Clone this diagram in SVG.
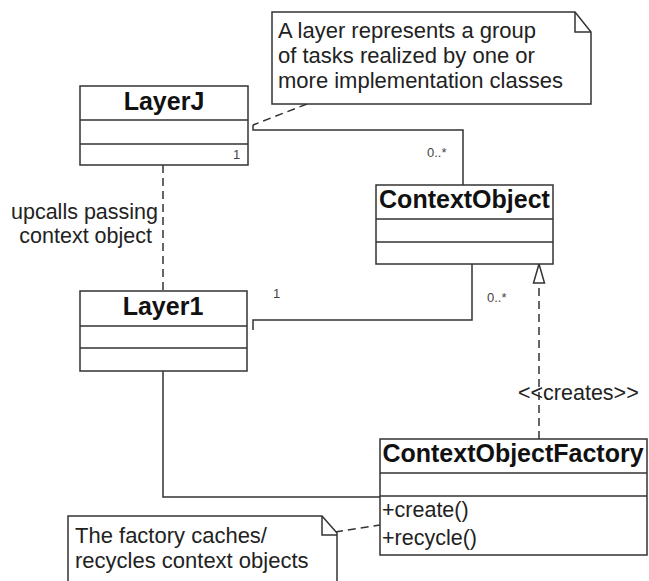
<svg xmlns="http://www.w3.org/2000/svg" width="649" height="581" viewBox="0 0 649 581">
<style>
.box{fill:#fff;stroke:#333;stroke-width:1.5}
.ln{fill:none;stroke:#333;stroke-width:1.5}
.dash{fill:none;stroke:#333;stroke-width:1.5;stroke-dasharray:8,5}
.title{font-family:"Liberation Sans",Arial,sans-serif;font-weight:bold;font-size:25px;fill:#111;text-anchor:middle}
.txt{font-family:"Liberation Sans",Arial,sans-serif;font-size:21.5px;fill:#222}
.note{font-family:"Liberation Sans",Arial,sans-serif;font-size:22px;fill:#222}
.sm{font-family:"Liberation Sans",Arial,sans-serif;font-size:13px;fill:#444}
</style>
<rect width="649" height="581" fill="#fff"/>
<g id="connectors">
<path class="dash" d="M307,104 L253,125"/>
<path class="ln" d="M253,125 V130 H463 V185"/>
<path class="dash" d="M163,165 V291"/>
<path class="ln" d="M253,330 V320 H472 V264"/>
<path class="ln" d="M163,371 V497 H386"/>
<path class="dash" d="M539,439 V283"/>
<polygon points="539,264 533.5,283 544.5,283" fill="#fff" stroke="#333" stroke-width="1.5"/>
<path class="dash" d="M335,532 L380,525"/>
</g>
<g id="note1">
<path class="box" d="M272,12 H575 L591,32 V104 H272 Z"/>
<path class="ln" d="M575,12 V32 H591"/>
<text class="note" x="278" y="38">A layer represents a group</text>
<text class="note" x="278" y="63">of tasks realized by one or</text>
<text class="note" x="278" y="88">more implementation classes</text>
</g>
<g id="LayerJ">
<rect class="box" x="80" y="86" width="168" height="79"/>
<path class="ln" d="M80,120 H248 M80,144 H248"/>
<text class="title" x="164" y="110">LayerJ</text>
</g>
<g id="Layer1">
<rect class="box" x="80" y="291" width="167" height="80"/>
<path class="ln" d="M80,326 H247 M80,348 H247"/>
<text class="title" x="163" y="315">Layer1</text>
</g>
<g id="ContextObject">
<rect class="box" x="376" y="185" width="177" height="79"/>
<path class="ln" d="M376,219 H553 M376,242 H553"/>
<text class="title" x="464.5" y="208">ContextObject</text>
</g>
<g id="ContextObjectFactory">
<rect class="box" x="380" y="439" width="267" height="116"/>
<path class="ln" d="M380,473 H647 M380,496 H647"/>
<text class="title" x="513" y="462">ContextObjectFactory</text>
<text class="txt" x="382" y="517">+create()</text>
<text class="txt" x="382" y="545">+recycle()</text>
</g>
<g id="note2">
<path class="box" d="M68,585 V516 H322 L337,533 V585"/>
<path class="ln" d="M322,516 V535 H337"/>
<text class="note" x="75" y="543">The factory caches/</text>
<text class="note" x="75" y="568">recycles context objects</text>
</g>
<g id="labels">
<text class="sm" x="427" y="157">0..*</text>
<text class="sm" x="233" y="159">1</text>
<text class="sm" x="273" y="298">1</text>
<text class="sm" x="487" y="302">0..*</text>
<text class="txt" x="158" y="219" text-anchor="end">upcalls passing</text>
<text class="txt" x="152" y="243" text-anchor="end">context object</text>
<text class="txt" x="518" y="400">&lt;&lt;creates&gt;&gt;</text>
</g>
</svg>
